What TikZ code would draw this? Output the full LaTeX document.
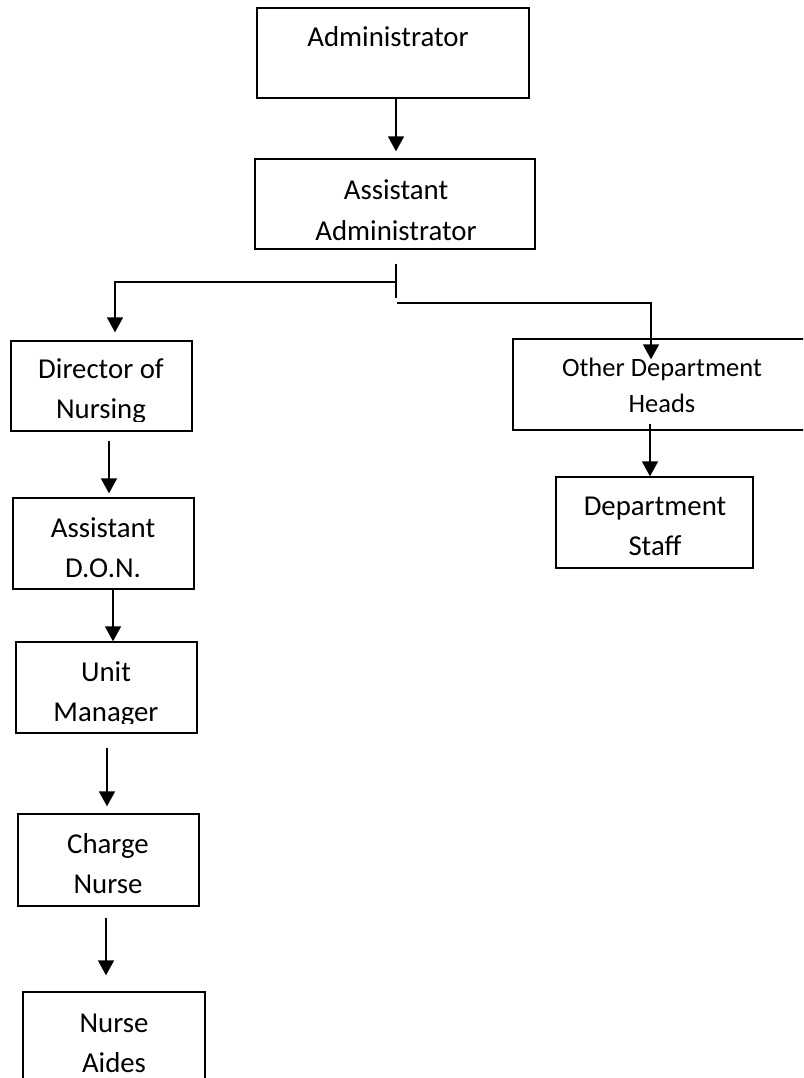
\documentclass[tikz,border=0pt]{standalone}
\usepackage{fontspec}
\setmainfont{Carlito}
\usetikzlibrary{positioning,arrows.meta,calc}

\begin{document}
\begin{tikzpicture}[
  x=1pt,y=-1pt,
  box/.style={draw,line width=1.4pt,inner sep=0pt,minimum width=181pt,minimum height=91pt},
  lbl/.style={align=center,anchor=base,inner sep=0pt,font=\fontsize{28.8}{40}\selectfont},
  arr/.style={-{Triangle[width=16pt,length=15pt]},line width=1.8pt},
  link/.style={line width=1.6pt}
]
\useasboundingbox (0,0) rectangle (803,1078);
\clip (0,0) rectangle (803,1078);

% Top of the chart
\node[box,minimum width=272pt,minimum height=90pt] (admin) at (393,53) {};
\node[box,minimum width=280pt,minimum height=90pt] (asst) at (395,204) {};
\node[lbl] (admin-txt) at (388,47) {Administrator};
\node[lbl] (asst-txt) at (396,240) {Assistant\\Administrator};

% Nursing side
\node[box,minimum height=90pt] (dir) at (101.5,386) {};
\node[box] (don) at (103.5,543.5) {};
\node[box] (unit) at (106.5,687.5) {};
\node[box,minimum height=92pt] (charge) at (108.5,860) {};
\node[box,minimum width=182pt,minimum height=93pt] (aides) at (114,1038.5) {};

\begin{scope}
  \clip (dir.north west) rectangle ($(dir.south east)+(0,-10)$);
  \node[lbl] (dir-txt) at (101,418) {Director of\\Nursing};
\end{scope}
\node[lbl] (don-txt) at (103,577) {Assistant\\D.O.N.};
\begin{scope}
  \clip (unit.north west) rectangle ($(unit.south east)+(0,-10)$);
  \node[lbl] (unit-txt) at (106,721) {Unit\\Manager};
\end{scope}
\node[lbl] (charge-txt) at (108,893) {Charge\\Nurse};
\node[lbl] (aides-txt) at (114,1072) {Nurse\\Aides};

% Other departments
\node[box,minimum width=298pt] (other) at (662,384.5) {};
\node[box,minimum width=197pt] (staff) at (654.5,522.5) {};
\node[lbl,font=\fontsize{26.5}{36}\selectfont] (other-txt) at (662,412) {Other Department\\Heads};
\node[lbl] (staff-txt) at (655,555) {Department\\Staff};

% Connectors
\draw[arr,shorten >=7pt] ($(admin.south)+(3,0)$) -- ($(asst.north)+(1,0)$);
\coordinate (split) at ($(asst.south)+(1,14)$);
\draw[link] (split) -- ++(0,34);
\draw[arr] ($(split)+(0,18)$) -| ($(dir.north)+(13.5,-8)$);
\draw[arr] ($(split)+(1,39)$) -| ($(other.north)+(-11,21)$);
\draw[arr] ($(dir.south)+(7.5,9)$) -- ($(don.north)+(5.5,-4)$);
\draw[arr] ($(don.south)+(9.5,0)$) -- ($(unit.north)+(6.5,0)$);
\draw[arr] ($(unit.south)+(0.5,14)$) -- ($(charge.north)+(-1.5,-7)$);
\draw[arr] ($(charge.south)+(-2.5,11)$) -- ($(aides.north)+(-8,-16)$);
\draw[arr] ($(other.south)+(-12,-7)$) -- ($(staff.north)+(-4.5,0)$);
\end{tikzpicture}
\end{document}
